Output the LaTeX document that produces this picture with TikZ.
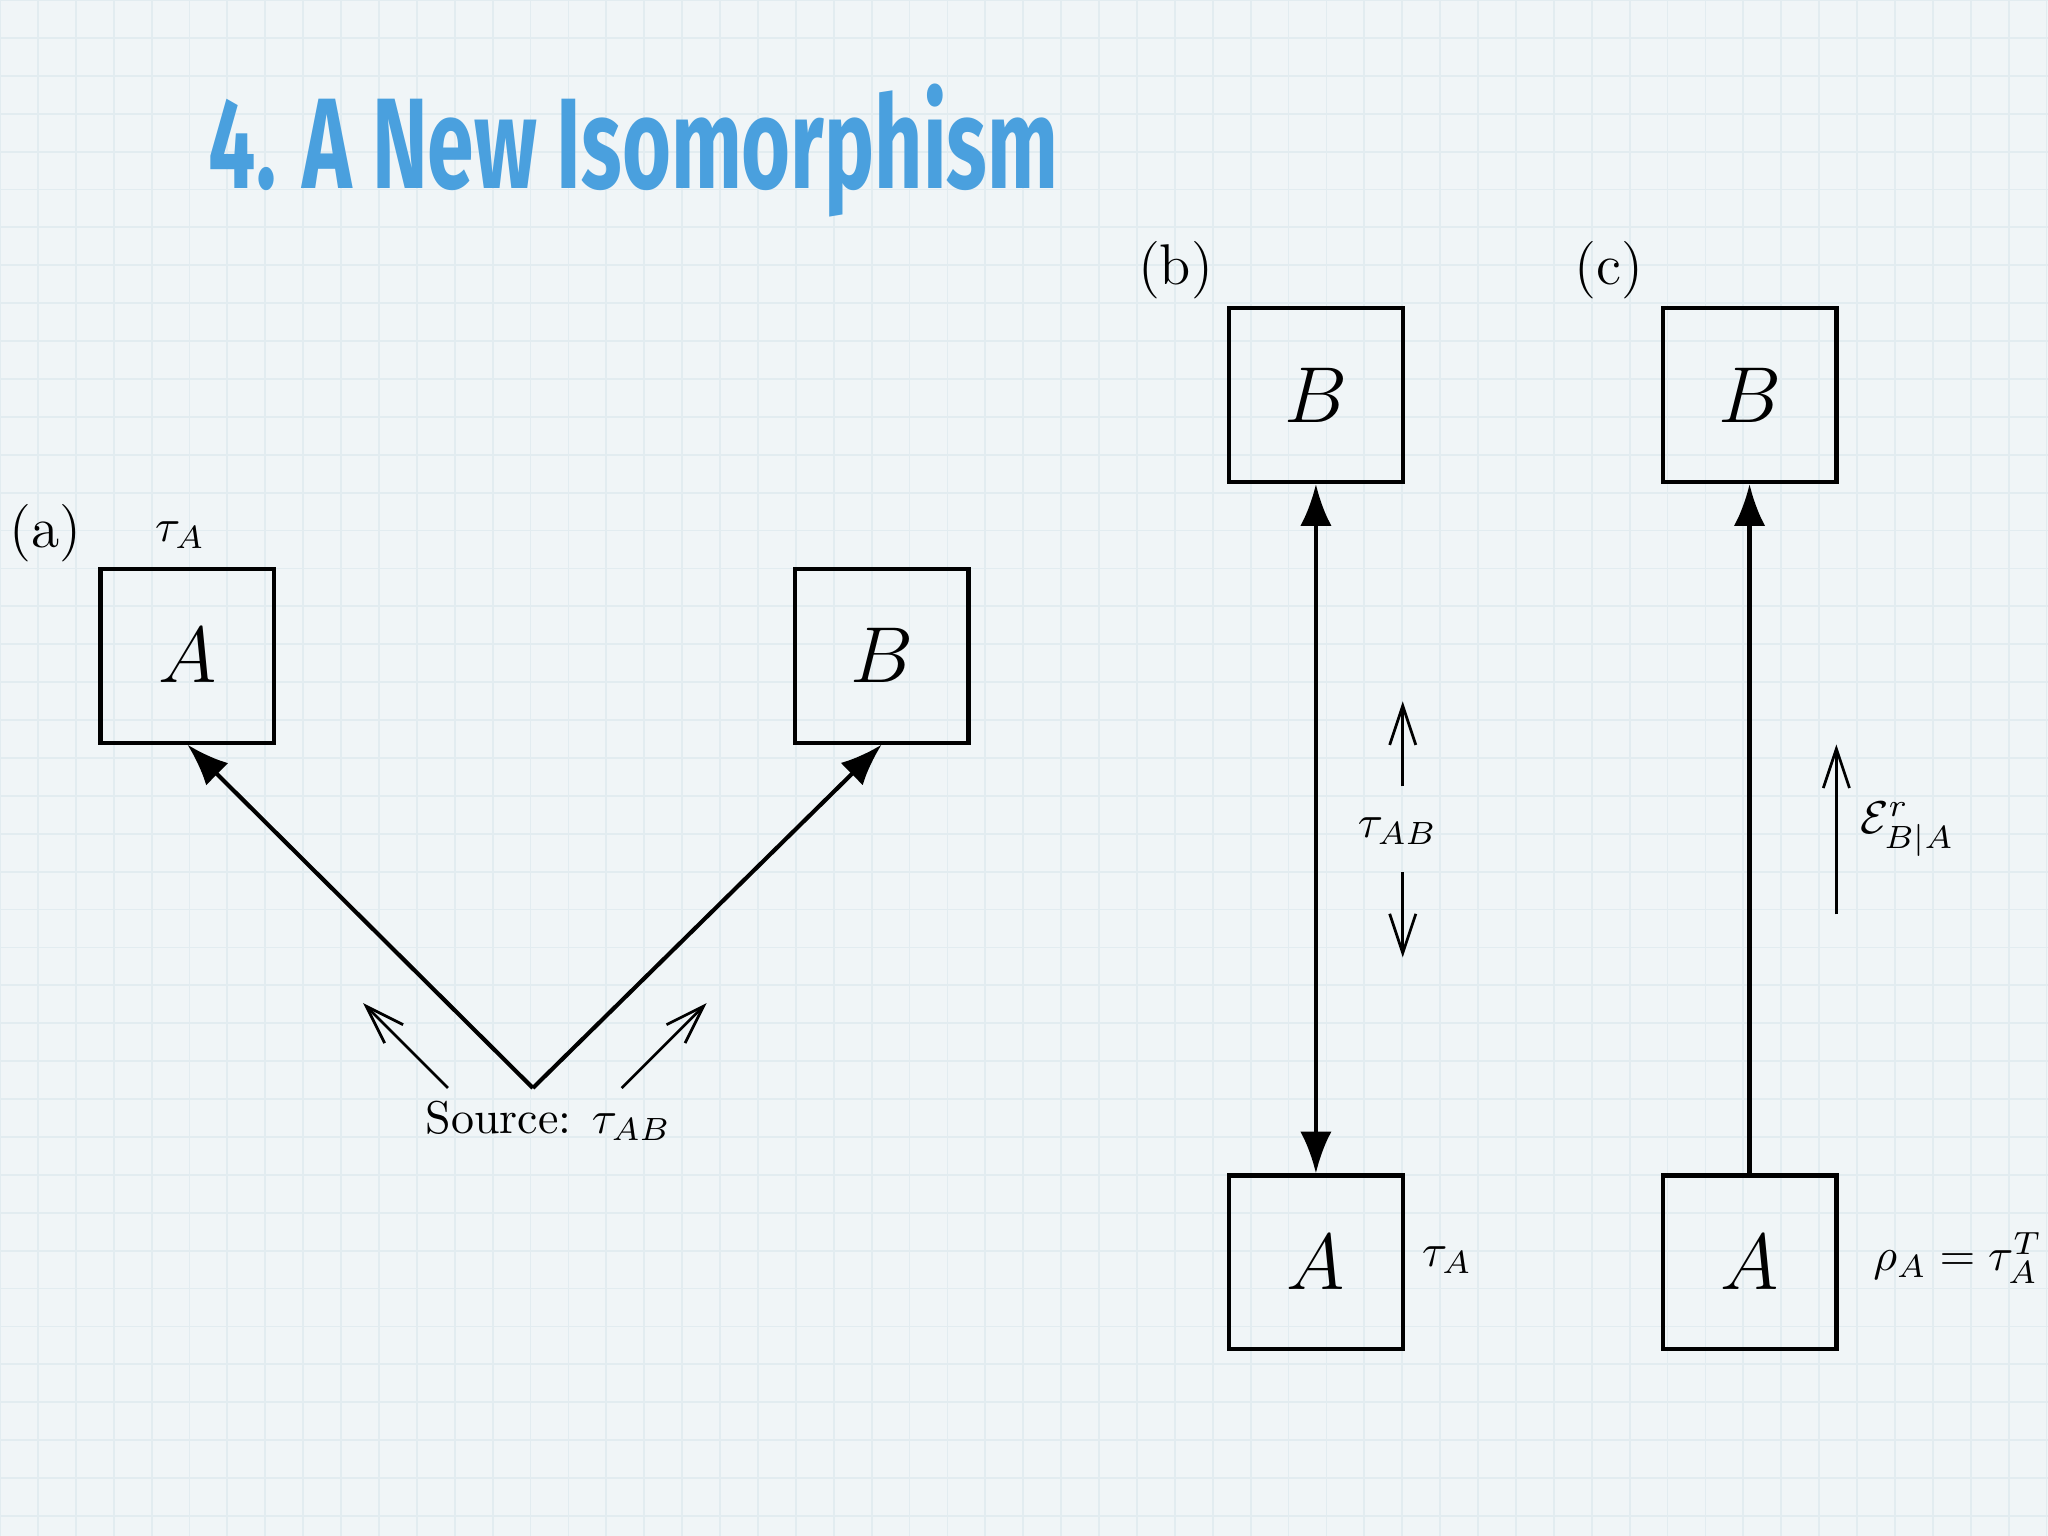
\documentclass[tikz,border=0pt]{standalone}
\usepackage{fontspec}
\usepackage{amsmath}
\usetikzlibrary{arrows.meta}
\definecolor{bg}{RGB}{240,245,247}
\definecolor{gridc}{RGB}{226,236,240}
\definecolor{titleblue}{RGB}{74,160,222}
\tikzset{
  box/.style={draw,line width=0.9pt,minimum width=1.33cm,minimum height=1.33cm,inner sep=0pt,font=\fontsize{17}{20}\selectfont},
  big/.style={line width=0.9pt,-{Latex[length=0.32cm,width=0.24cm]}},
  small/.style={line width=0.6pt,-{Straight Barb[length=0.3cm,width=0.2cm]}},
  lab/.style={font=\fontsize{12.5}{15}\selectfont},
  txt/.style={font=\fontsize{10}{12}\selectfont},
}
\begin{document}
\begin{tikzpicture}[x=0.01cm,y=-0.01cm]
\useasboundingbox (0,0) rectangle (1568,1176);
\fill[bg] (0,0) rectangle (1568,1176);
\draw[gridc,line width=0.4pt,step=0.29cm] (0,0) grid (1568,1176);
\node[text=titleblue,anchor=center] (title) at (485,115) {\resizebox{6.5cm}{0.8cm}{\fontspec{Fira Sans}\bfseries 4. A New Isomorphism}};
% (a)
\node[lab] (la) at (35,408) {(a)};
\node[txt] (ta) at (138,410) {$\tau_A$};
\node[box] (aA) at (143.5,502) {$A$};
\node[box] (aB) at (675,502) {$B$};
\coordinate (src) at (408,833);
\draw[big] (src) -- (aA.south);
\draw[big] (src) -- (aB.south);
\coordinate (s1) at (343,833); \coordinate (e1) at (278,768);
\coordinate (s2) at (476,833); \coordinate (e2) at (541,768);
\draw[small] (s1) -- (e1);
\draw[small] (s2) -- (e2);
\node[txt] (srcl) at (420,858) {Source: $\tau_{AB}$};
% (b)
\node[lab] (lb) at (900,207) {(b)};
\node[box] (bB) at (1007.5,302.5) {$B$};
\node[box] (bA) at (1007.5,966.5) {$A$};
\draw[line width=0.9pt,{Latex[length=0.32cm,width=0.24cm]}-{Latex[length=0.32cm,width=0.24cm]}] (bB.south) -- (bA.north);
\node[txt] (tab) at (1070,636) {$\tau_{AB}$};
\coordinate (u1) at (1074,602); \coordinate (u2) at (1074,537);
\coordinate (d1) at (1074,668); \coordinate (d2) at (1074,733);
\draw[small] (u1) -- (u2);
\draw[small] (d1) -- (d2);
\node[txt] (tA) at (1108,965) {$\tau_A$};
% (c)
\node[lab] (lc) at (1232,207) {(c)};
\node[box] (cB) at (1339.5,302.5) {$B$};
\node[box] (cA) at (1339.5,966.5) {$A$};
\draw[big] (cA.north) -- (cB.south);
\coordinate (v1) at (1406,700); \coordinate (v2) at (1406,570);
\draw[small] (v1) -- (v2);
\node[txt,anchor=west,inner sep=1pt] (eps) at (1420,635) {$\mathcal{E}^r_{B|A}$};
\node[txt,anchor=west,inner sep=1pt] (rho) at (1430,963) {$\rho_A=\tau_A^T$};
\end{tikzpicture}
\end{document}
